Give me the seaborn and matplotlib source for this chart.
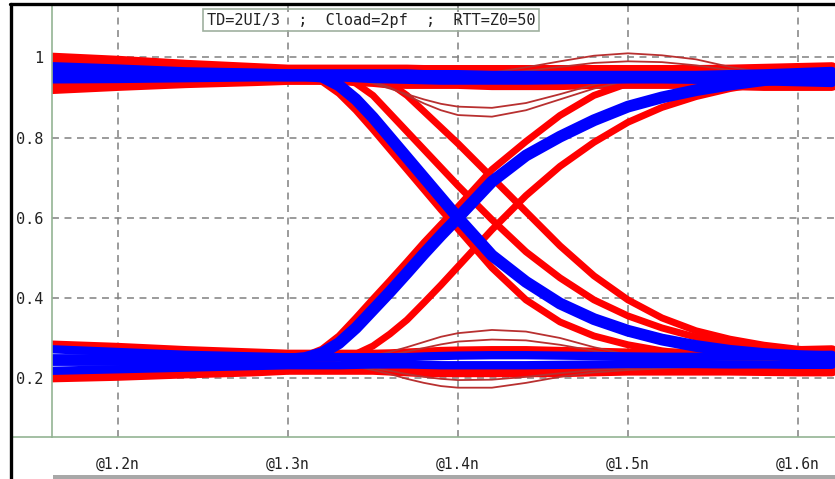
import matplotlib
matplotlib.use("Agg")
import matplotlib.pyplot as plt
import seaborn as sns
import pandas as pd
from matplotlib.lines import Line2D
from matplotlib.patches import Rectangle
from matplotlib.ticker import FixedLocator, MultipleLocator

# sample instants in ns (denser where the edges bend)
t_ns = [1.16, 1.20, 1.24, 1.28, 1.30, 1.31, 1.32, 1.33, 1.34, 1.35, 1.36, 1.37, 1.38,
        1.39, 1.40, 1.42, 1.44, 1.46, 1.48, 1.50, 1.52, 1.54, 1.56, 1.58, 1.60, 1.62]

# blue traces (nominal case)
blue_high_a = [0.978, 0.972, 0.965, 0.962, 0.96, 0.96, 0.96, 0.96, 0.96, 0.96, 0.96, 0.96, 0.958,
               0.958, 0.958, 0.956, 0.956, 0.956, 0.956, 0.956, 0.956, 0.956, 0.958, 0.96, 0.963, 0.966]
blue_high_b = [0.945, 0.946, 0.948, 0.95, 0.95, 0.95, 0.95, 0.95, 0.948, 0.946, 0.945, 0.944, 0.943,
               0.942, 0.942, 0.942, 0.942, 0.943, 0.944, 0.945, 0.945, 0.944, 0.942, 0.94, 0.938, 0.936]
blue_low_a = [0.272, 0.265, 0.258, 0.254, 0.252, 0.252, 0.252, 0.252, 0.252, 0.252, 0.252, 0.252, 0.254,
              0.255, 0.256, 0.257, 0.257, 0.256, 0.255, 0.254, 0.253, 0.253, 0.254, 0.255, 0.257, 0.258]
blue_low_b = [0.218, 0.222, 0.226, 0.23, 0.232, 0.232, 0.232, 0.232, 0.233, 0.234, 0.234, 0.234, 0.233,
              0.232, 0.232, 0.232, 0.232, 0.233, 0.234, 0.235, 0.235, 0.235, 0.234, 0.234, 0.233, 0.233]
blue_fall = [0.96, 0.96, 0.958, 0.956, 0.955, 0.955, 0.952, 0.93, 0.895, 0.85, 0.8, 0.75, 0.7,
             0.65, 0.6, 0.506, 0.44, 0.386, 0.347, 0.318, 0.296, 0.28, 0.268, 0.26, 0.255, 0.252]
blue_rise = [0.245, 0.245, 0.245, 0.245, 0.246, 0.25, 0.262, 0.287, 0.325, 0.37, 0.415, 0.462, 0.51,
             0.556, 0.6, 0.69, 0.755, 0.802, 0.843, 0.877, 0.9, 0.918, 0.932, 0.943, 0.95, 0.952]

# red traces (corner cases)
red_high_top = [0.998, 0.99, 0.98, 0.972, 0.968, 0.968, 0.968, 0.968, 0.968, 0.968, 0.968, 0.968, 0.967,
                0.967, 0.967, 0.967, 0.967, 0.967, 0.967, 0.967, 0.967, 0.967, 0.968, 0.97, 0.972, 0.974]
red_high_bot = [0.922, 0.93, 0.937, 0.942, 0.945, 0.945, 0.945, 0.945, 0.942, 0.94, 0.936, 0.935, 0.935,
                0.935, 0.935, 0.932, 0.932, 0.932, 0.935, 0.935, 0.935, 0.935, 0.932, 0.93, 0.93, 0.93]
red_low_top = [0.28, 0.274, 0.266, 0.26, 0.257, 0.257, 0.257, 0.257, 0.257, 0.257, 0.258, 0.26, 0.262,
               0.264, 0.265, 0.266, 0.266, 0.264, 0.262, 0.26, 0.26, 0.26, 0.262, 0.264, 0.266, 0.268]
red_low_bot = [0.203, 0.207, 0.213, 0.218, 0.222, 0.222, 0.222, 0.222, 0.222, 0.222, 0.22, 0.218, 0.216,
               0.216, 0.216, 0.216, 0.216, 0.216, 0.218, 0.22, 0.22, 0.22, 0.22, 0.219, 0.218, 0.218]
red_fall_early = [0.96, 0.96, 0.958, 0.956, 0.955, 0.952, 0.94, 0.91, 0.868, 0.82, 0.77, 0.72, 0.67,
                  0.62, 0.572, 0.475, 0.395, 0.34, 0.305, 0.283, 0.268, 0.258, 0.252, 0.249, 0.247, 0.246]
red_fall_late1 = [0.96, 0.96, 0.958, 0.956, 0.955, 0.955, 0.955, 0.952, 0.935, 0.905, 0.86, 0.815, 0.77,
                  0.725, 0.68, 0.595, 0.515, 0.45, 0.395, 0.355, 0.325, 0.302, 0.285, 0.273, 0.265, 0.26]
red_fall_late2 = [0.96, 0.96, 0.958, 0.956, 0.955, 0.955, 0.955, 0.955, 0.954, 0.95, 0.935, 0.905, 0.865,
                  0.825, 0.785, 0.7, 0.615, 0.53, 0.455, 0.395, 0.35, 0.318, 0.297, 0.282, 0.272, 0.265]
red_rise_early = [0.245, 0.245, 0.245, 0.246, 0.25, 0.255, 0.272, 0.305, 0.35, 0.397, 0.443, 0.49, 0.538,
                  0.583, 0.627, 0.72, 0.79, 0.855, 0.905, 0.935, 0.95, 0.956, 0.958, 0.957, 0.956, 0.955]
red_rise_late = [0.245, 0.245, 0.245, 0.245, 0.245, 0.245, 0.246, 0.25, 0.26, 0.28, 0.31, 0.345, 0.388,
                 0.432, 0.478, 0.57, 0.655, 0.728, 0.788, 0.838, 0.875, 0.902, 0.922, 0.936, 0.945, 0.95]
red_high_dip1 = [0.958, 0.958, 0.958, 0.957, 0.956, 0.955, 0.953, 0.95, 0.945, 0.935, 0.922, 0.908, 0.895,
                 0.884, 0.877, 0.874, 0.886, 0.908, 0.932, 0.948, 0.955, 0.957, 0.957, 0.957, 0.957, 0.957]
red_high_dip2 = [0.958, 0.958, 0.958, 0.957, 0.956, 0.955, 0.955, 0.953, 0.95, 0.94, 0.925, 0.905, 0.885,
                 0.868, 0.856, 0.852, 0.868, 0.895, 0.922, 0.942, 0.952, 0.956, 0.956, 0.956, 0.956, 0.956]
red_over1 = [0.965, 0.965, 0.965, 0.965, 0.965, 0.965, 0.965, 0.965, 0.965, 0.962, 0.96, 0.958, 0.955,
             0.953, 0.952, 0.962, 0.975, 0.99, 1.004, 1.01, 1.005, 0.995, 0.976, 0.962, 0.956, 0.955]
red_over2 = [0.965, 0.965, 0.965, 0.965, 0.965, 0.965, 0.965, 0.965, 0.965, 0.962, 0.96, 0.958, 0.956,
             0.955, 0.955, 0.958, 0.966, 0.976, 0.986, 0.99, 0.988, 0.98, 0.968, 0.96, 0.956, 0.955]
red_low_dip1 = [0.245, 0.245, 0.245, 0.245, 0.245, 0.245, 0.245, 0.247, 0.25, 0.256, 0.265, 0.277, 0.29,
                0.303, 0.312, 0.32, 0.316, 0.3, 0.277, 0.258, 0.25, 0.247, 0.246, 0.245, 0.245, 0.245]
red_low_dip2 = [0.245, 0.245, 0.245, 0.245, 0.245, 0.245, 0.245, 0.246, 0.248, 0.252, 0.258, 0.266, 0.275,
                0.284, 0.291, 0.296, 0.294, 0.283, 0.268, 0.255, 0.249, 0.247, 0.246, 0.245, 0.245, 0.245]
red_under1 = [0.235, 0.235, 0.235, 0.235, 0.235, 0.235, 0.235, 0.232, 0.228, 0.22, 0.21, 0.198, 0.188,
              0.18, 0.176, 0.176, 0.188, 0.203, 0.214, 0.22, 0.224, 0.228, 0.23, 0.232, 0.233, 0.233]
red_under2 = [0.235, 0.235, 0.235, 0.235, 0.235, 0.235, 0.235, 0.233, 0.23, 0.225, 0.218, 0.21, 0.203,
              0.198, 0.195, 0.196, 0.203, 0.212, 0.22, 0.225, 0.228, 0.23, 0.232, 0.233, 0.234, 0.234]

x_ticks = [1.2, 1.3, 1.4, 1.5, 1.6]
x_labels = ["@1.2n", "@1.3n", "@1.4n", "@1.5n", "@1.6n"]
y_ticks = [0.2, 0.4, 0.6, 0.8, 1.0]
y_labels = ["0.2", "0.4", "0.6", "0.8", "1"]
caption = "TD=2UI/3  ;  Cload=2pf  ;  RTT=Z0=50"

traces = {
    "blue_high_a": blue_high_a, "blue_high_b": blue_high_b,
    "blue_low_a": blue_low_a, "blue_low_b": blue_low_b,
    "blue_fall": blue_fall, "blue_rise": blue_rise,
    "red_high_top": red_high_top, "red_high_bot": red_high_bot,
    "red_low_top": red_low_top, "red_low_bot": red_low_bot,
    "red_fall_early": red_fall_early, "red_fall_late1": red_fall_late1,
    "red_fall_late2": red_fall_late2, "red_rise_early": red_rise_early,
    "red_rise_late": red_rise_late,
    "red_high_dip1": red_high_dip1, "red_high_dip2": red_high_dip2,
    "red_over1": red_over1, "red_over2": red_over2,
    "red_low_dip1": red_low_dip1, "red_low_dip2": red_low_dip2,
    "red_under1": red_under1, "red_under2": red_under2,
}
df = pd.concat([pd.DataFrame({"t": t_ns, "v": vals, "trace": name})
                for name, vals in traces.items()], ignore_index=True)

sns.set_style("white")
plt.rcParams["font.family"] = ["DejaVu Sans Mono", "DejaVu Sans"]
plt.rcParams["lines.scale_dashes"] = False

W, H = 835, 479
fig = plt.figure(figsize=(W / 100, H / 100), dpi=100)
ax = fig.add_axes([52 / W, (H - 437) / H, (W - 52) / W, (437 - 6) / H])

axis_c = "#94b494"
red = "#ff0000"
thin_red = "#b83030"
blue = "#0000ff"


def draw(names, color, lw):
    sub = df[df["trace"].isin(names)]
    sns.lineplot(data=sub, x="t", y="v", units="trace", estimator=None, sort=False,
                 color=color, lw=lw, ax=ax, legend=False)


draw(["red_high_top", "red_high_bot", "red_low_top", "red_low_bot"], red, 8)
draw(["red_fall_early", "red_fall_late1", "red_fall_late2",
      "red_rise_early", "red_rise_late"], red, 5)
draw(["red_high_dip1", "red_high_dip2", "red_over1", "red_over2",
      "red_low_dip1", "red_low_dip2", "red_under1", "red_under2"], thin_red, 1.3)
draw(["blue_high_a", "blue_high_b", "blue_low_a", "blue_low_b"], blue, 6)
draw(["blue_fall", "blue_rise"], blue, 8.5)

ax.set_xlim(1.1612, 1.6218)
ax.set_ylim(0.053, 1.128)
ax.set_xlabel("")
ax.set_ylabel("")

ax.xaxis.set_major_locator(FixedLocator(x_ticks))
ax.set_xticklabels(x_labels)
ax.xaxis.set_minor_locator(MultipleLocator(0.02))
ax.yaxis.set_major_locator(FixedLocator(y_ticks))
ax.set_yticklabels(y_labels)
ax.yaxis.set_minor_locator(MultipleLocator(0.04))

ax.tick_params(axis="x", which="both", direction="out", length=6, width=1,
               color=axis_c, pad=8, labelsize=10.5, labelcolor="#222222")
ax.tick_params(axis="y", which="major", direction="out", length=4, width=1,
               color=axis_c, pad=2, labelsize=11, labelcolor="#222222")
ax.tick_params(axis="y", which="minor", direction="out", length=3, width=1, color=axis_c)

ax.set_axisbelow(True)
ax.grid(True, which="major", color="#808080", lw=1.1, ls=(0, (5, 4)))

for s in ["top", "right"]:
    ax.spines[s].set_visible(False)
for s in ["left", "bottom"]:
    ax.spines[s].set_color(axis_c)
    ax.spines[s].set_linewidth(1.2)

# axis line continues left to the frame
fig.add_artist(Line2D([11 / W, 52 / W], [(H - 437) / H] * 2, color=axis_c, lw=1.2))
# window frame
fig.add_artist(Line2D([11 / W, 11 / W], [0, 1 - 4 / H], color="black", lw=2.4))
fig.add_artist(Line2D([10 / W, 1], [1 - 4 / H] * 2, color="black", lw=2.4))
# scroll bar at the bottom
fig.add_artist(Rectangle((53 / W, 0), 1, 4 / H, transform=fig.transFigure,
                         color="#a8a8a8", lw=0))

fig.text(371 / W, 1 - 20 / H, caption, ha="center", va="center", fontsize=11,
         color="#222222",
         bbox=dict(boxstyle="square,pad=0.25", fc="none", ec="#9fb09f", lw=1.2))

fig.savefig("out.png", dpi=100)
